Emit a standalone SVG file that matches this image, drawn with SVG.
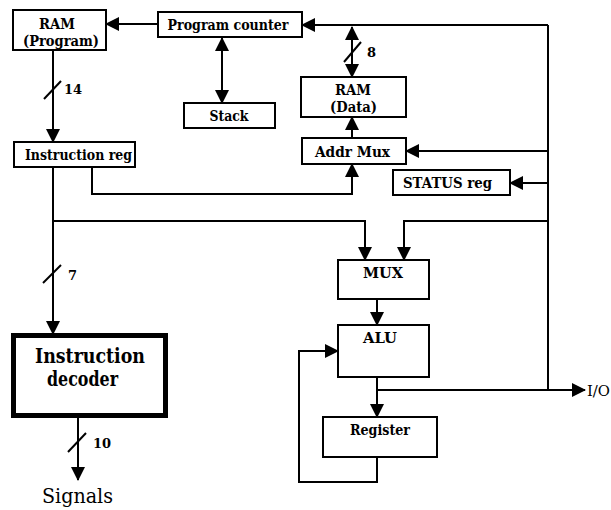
<svg xmlns="http://www.w3.org/2000/svg" width="611" height="510" viewBox="0 0 611 510">
<defs>
<marker id="ah" markerUnits="userSpaceOnUse" markerWidth="14" markerHeight="14" viewBox="0 0 14 14" refX="13" refY="7" orient="auto-start-reverse">
<path d="M0,0 L14,7 L0,14 z" fill="#000"/>
</marker>
<style>
.box{fill:#fff;stroke:#000;stroke-width:2}
.t{font-family:"DejaVu Serif","Liberation Serif",serif;font-weight:bold;font-size:15px;text-anchor:middle;fill:#000}
.s{font-family:"DejaVu Serif","Liberation Serif",serif;font-weight:bold;font-size:13px;fill:#000}
.w{fill:none;stroke:#000;stroke-width:2}
.a{fill:none;stroke:#000;stroke-width:2;marker-end:url(#ah)}
.d{fill:none;stroke:#000;stroke-width:2;marker-end:url(#ah);marker-start:url(#ah)}
</style>
</defs>
<rect width="611" height="510" fill="#fff"/>
<g id="connectors">
<path class="a" d="M158,24 L106,24"/>
<path class="a" d="M548,25 L548,390 M548,25 L302,25"/>
<path class="d" d="M222,38 L222,103"/>
<path class="a" d="M53,50 L53,142"/>
<path class="w" d="M44,99 L61,81"/>
<path class="d" d="M352,27 L352,77"/>
<path class="w" d="M344,62 L361,42"/>
<path class="a" d="M352,138 L352,117"/>
<path class="a" d="M548,151 L406,151"/>
<path class="a" d="M548,183 L510,183"/>
<path class="a" d="M92,167 L92,194 L352,194 L352,164"/>
<path class="a" d="M53,167 L53,334"/>
<path class="w" d="M43,283 L61,265"/>
<path class="a" d="M53,221 L365,221 L365,260"/>
<path class="a" d="M548,221 L404,221 L404,260"/>
<path class="a" d="M377,299 L377,325"/>
<path class="a" d="M377,377 L377,417"/>
<path class="a" d="M377,390 L585,390"/>
<path class="a" d="M377,457 L377,482 L299,482 L299,351 L338,351"/>
<path class="a" d="M78,418 L78,480"/>
<path class="w" d="M68,452 L86,433"/>
<text class="s" x="64" y="94">14</text>
<text class="s" x="367" y="57">8</text>
<text class="s" x="68" y="280">7</text>
<text class="s" x="93" y="448">10</text>
</g>
<g id="ram-program"><rect class="box" x="13" y="10" width="93" height="40"/><text class="t" x="57" y="29" textLength="36" lengthAdjust="spacingAndGlyphs">RAM</text><text class="t" x="61" y="46" textLength="76" lengthAdjust="spacingAndGlyphs">(Program)</text></g>
<g id="program-counter"><rect class="box" x="158" y="12" width="144" height="25"/><text class="t" x="228" y="30" textLength="121" lengthAdjust="spacingAndGlyphs">Program counter</text></g>
<g id="stack"><rect class="box" x="184" y="103" width="91" height="25"/><text class="t" x="229" y="121" textLength="39" lengthAdjust="spacingAndGlyphs">Stack</text></g>
<g id="instruction-reg"><rect class="box" x="14" y="142" width="121" height="25"/><text class="t" x="78.5" y="160" textLength="107" lengthAdjust="spacingAndGlyphs">Instruction reg</text></g>
<g id="ram-data"><rect class="box" x="301" y="77" width="105" height="40"/><text class="t" x="353" y="95" textLength="36" lengthAdjust="spacingAndGlyphs">RAM</text><text class="t" x="353.5" y="112" textLength="47" lengthAdjust="spacingAndGlyphs">(Data)</text></g>
<g id="addr-mux"><rect class="box" x="302" y="138" width="104" height="26"/><text class="t" x="352.5" y="157" textLength="75" lengthAdjust="spacingAndGlyphs">Addr Mux</text></g>
<g id="status-reg"><rect class="box" x="393" y="170" width="117" height="25"/><text class="t" x="447.5" y="188" textLength="89" lengthAdjust="spacingAndGlyphs">STATUS reg</text></g>
<g id="mux"><rect class="box" x="338" y="260" width="91" height="39"/><text class="t" x="383" y="278" textLength="40" lengthAdjust="spacingAndGlyphs">MUX</text></g>
<g id="alu"><rect class="box" x="338" y="325" width="91" height="52"/><text class="t" x="380" y="343" textLength="34" lengthAdjust="spacingAndGlyphs">ALU</text></g>
<g id="register"><rect class="box" x="323" y="417" width="114" height="40"/><text class="t" x="380" y="435" style="font-size:14px" textLength="60" lengthAdjust="spacingAndGlyphs">Register</text></g>
<g id="instruction-decoder"><rect x="13.5" y="335.5" width="152" height="80" fill="#fff" stroke="#000" stroke-width="5"/><text class="t" x="90" y="363" style="font-size:21px" textLength="110" lengthAdjust="spacingAndGlyphs">Instruction</text><text class="t" x="82.5" y="386" style="font-size:21px" textLength="71" lengthAdjust="spacingAndGlyphs">decoder</text></g>
<g id="signals"><text class="t" x="77.5" y="503" style="font-size:20px;font-weight:normal" textLength="71" lengthAdjust="spacingAndGlyphs">Signals</text></g>
<g id="io"><text class="t" x="598.5" y="396" style="font-size:14px;font-weight:normal" textLength="23" lengthAdjust="spacingAndGlyphs">I/O</text></g>
</svg>
